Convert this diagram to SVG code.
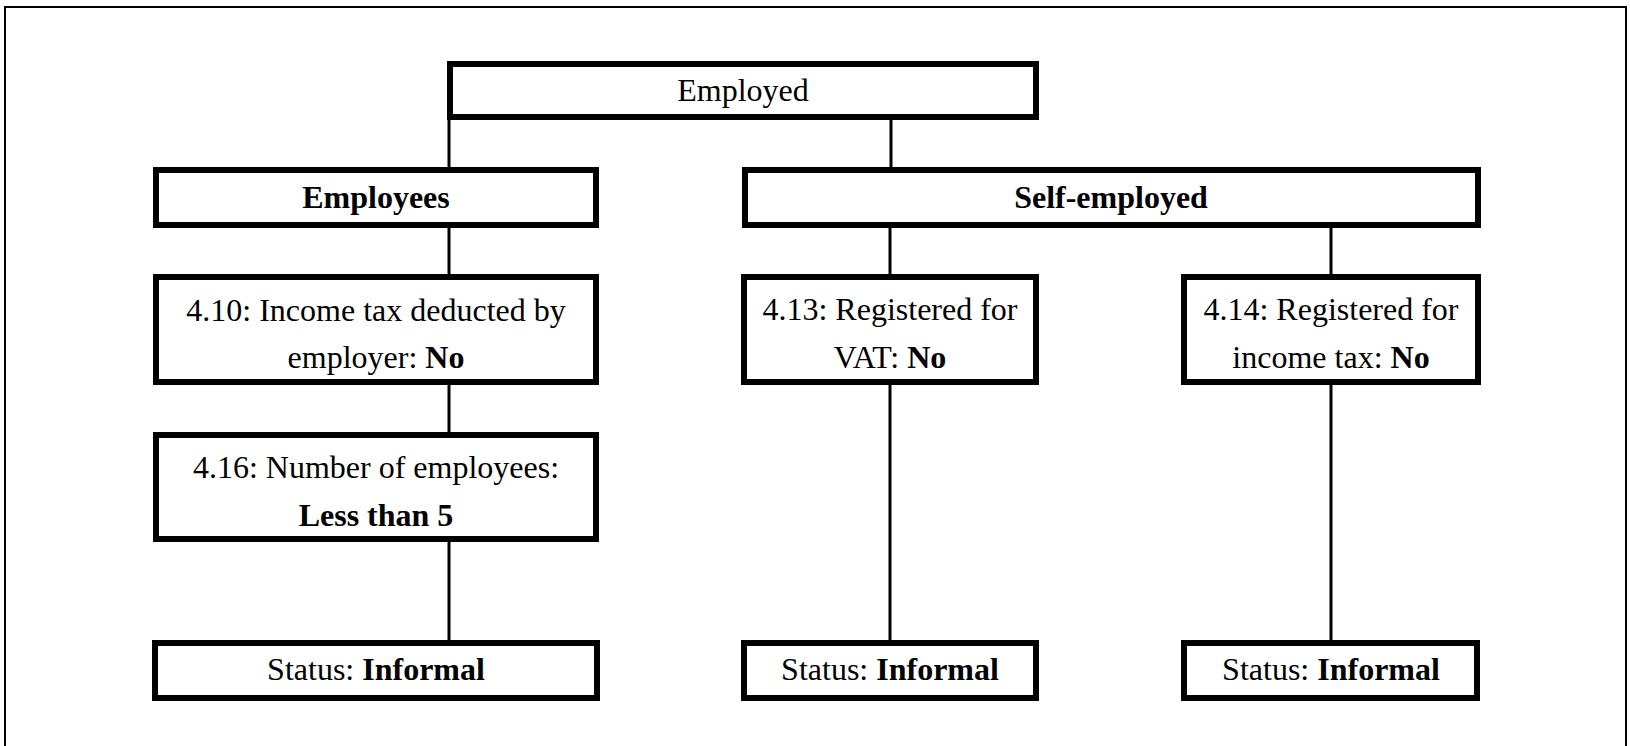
<svg xmlns="http://www.w3.org/2000/svg" width="1630" height="746" viewBox="0 0 1630 746">
<style>
.box{fill:#fff;stroke:#000;stroke-width:6}
.frame{fill:none;stroke:#000;stroke-width:2}
.conn line{stroke:#000;stroke-width:3}
text{font-family:"Liberation Serif","Times New Roman",serif;font-size:32px;fill:#000;text-anchor:middle}
.b{font-weight:bold}
</style>
<rect x="0" y="0" width="1630" height="746" fill="#fff"/>
<rect class="frame" x="5" y="7" width="1621" height="760"/>
<g id="connectors" class="conn">
<line x1="449" y1="118" x2="449" y2="169"/>
<line x1="891" y1="118" x2="891" y2="169"/>
<line x1="449" y1="226" x2="449" y2="276"/>
<line x1="890" y1="226" x2="890" y2="276"/>
<line x1="1331" y1="226" x2="1331" y2="276"/>
<line x1="449" y1="383" x2="449" y2="434"/>
<line x1="449" y1="540" x2="449" y2="642"/>
<line x1="890" y1="383" x2="890" y2="642"/>
<line x1="1331" y1="383" x2="1331" y2="642"/>
</g>
<g id="employed">
<rect class="box" x="450" y="64" width="586" height="53"/>
<text x="743" y="101">Employed</text>
</g>
<g id="employees">
<rect class="box" x="156" y="170" width="440" height="55"/>
<text x="376" y="208" class="b">Employees</text>
</g>
<g id="self-employed">
<rect class="box" x="745" y="170" width="733" height="55"/>
<text x="1111" y="208" class="b">Self-employed</text>
</g>
<g id="q410">
<rect class="box" x="156" y="277" width="440" height="105"/>
<text x="376" y="321">4.10: Income tax deducted by</text>
<text x="376" y="368">employer: <tspan class="b">No</tspan></text>
</g>
<g id="q413">
<rect class="box" x="744" y="277" width="292" height="105"/>
<text x="890" y="320">4.13: Registered for</text>
<text x="890" y="368">VAT: <tspan class="b">No</tspan></text>
</g>
<g id="q414">
<rect class="box" x="1184" y="277" width="294" height="105"/>
<text x="1331" y="320">4.14: Registered for</text>
<text x="1331" y="368">income tax: <tspan class="b">No</tspan></text>
</g>
<g id="q416">
<rect class="box" x="156" y="435" width="440" height="104"/>
<text x="376" y="478">4.16: Number of employees:</text>
<text x="376" y="526" class="b">Less than 5</text>
</g>
<g id="status1">
<rect class="box" x="155" y="643" width="442" height="55"/>
<text x="376" y="680">Status: <tspan class="b">Informal</tspan></text>
</g>
<g id="status2">
<rect class="box" x="744" y="643" width="292" height="55"/>
<text x="890" y="680">Status: <tspan class="b">Informal</tspan></text>
</g>
<g id="status3">
<rect class="box" x="1184" y="643" width="293" height="55"/>
<text x="1331" y="680">Status: <tspan class="b">Informal</tspan></text>
</g>
</svg>
